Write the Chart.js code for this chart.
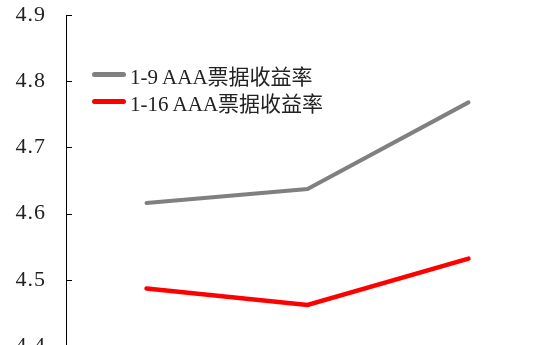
<!DOCTYPE html>
<html>
<head>
<meta charset="utf-8">
<script src="https://cdn.jsdelivr.net/npm/chart.js@4/dist/chart.umd.min.js"></script>
<style>
    html, body { margin: 0; padding: 0; background: #fff; overflow: hidden; }
    #wrap { position: relative; width: 549px; height: 360px; }
    #legend { position: absolute; left: 92px; top: 61px; font-family: "Liberation Serif", "Noto Sans CJK SC", serif; font-size: 21px; color: #222; }
    .item { display: flex; align-items: center; height: 27px; white-space: nowrap; }
    .swatch { width: 34px; height: 5px; border-radius: 3px; margin-right: 4px; }
</style>
</head>
<body>
<div id="wrap">
    <canvas id="chart" width="549" height="360"></canvas>
    <div id="legend"></div>
</div>
<script>
const categories = ["1M", "3M", "6M"];
const seriesNames = ["1-9 AAA票据收益率", "1-16 AAA票据收益率"];
const jan9 = [4.616, 4.637, 4.768];
const jan16 = [4.487, 4.462, 4.532];
const colors = ["#808080", "#ff0000"];

// axis digits a little spaced out, short tick marks pointing into the plot
const axisStyle = {
    id: "axisStyle",
    beforeDraw(chart) {
        chart.ctx.letterSpacing = "1px";
    },
    beforeDatasetsDraw(chart) {
        chart.ctx.letterSpacing = "0px";
    },
    afterDraw(chart) {
        const y = chart.scales.y;
        const ctx = chart.ctx;
        ctx.save();
        ctx.strokeStyle = "#000";
        ctx.lineWidth = 1;
        y.ticks.forEach(t => {
            const py = Math.round(y.getPixelForValue(t.value)) + 0.5;
            ctx.beginPath();
            ctx.moveTo(y.right, py);
            ctx.lineTo(y.right + 6, py);
            ctx.stroke();
        });
        ctx.restore();
    }
};

const legend = document.getElementById("legend");
seriesNames.forEach((name, i) => {
    legend.innerHTML += `<div class="item"><span class="swatch" style="background:${colors[i]}"></span>${name}</div>`;
});

new Chart(document.getElementById("chart"), {
    type: "line",
    data: {
        labels: categories,
        datasets: [
            { label: seriesNames[0], data: jan9, borderColor: colors[0], borderWidth: 4, pointRadius: 0, borderCapStyle: "round", tension: 0 },
            { label: seriesNames[1], data: jan16, borderColor: colors[1], borderWidth: 4.5, pointRadius: 0, borderCapStyle: "round", tension: 0 }
        ]
    },
    options: {
        responsive: false,
        animation: false,
        layout: { padding: 0 },
        plugins: { legend: { display: false }, tooltip: { enabled: false } },
        scales: {
            x: {
                display: false,
                offset: true
            },
            y: {
                min: 4.4,
                max: 4.9,
                afterFit(scale) {
                    scale.width = 66;
                    scale.paddingTop = 15;
                    scale.paddingBottom = 14;
                },
                ticks: {
                    stepSize: 0.1,
                    padding: 20,
                    color: "#222",
                    font: { family: "Liberation Serif", size: 22 },
                    callback: v => v.toFixed(1)
                },
                grid: { drawOnChartArea: false, drawTicks: false },
                border: { color: "#000", width: 1 }
            }
        }
    },
    plugins: [axisStyle]
});
</script>
</body>
</html>
